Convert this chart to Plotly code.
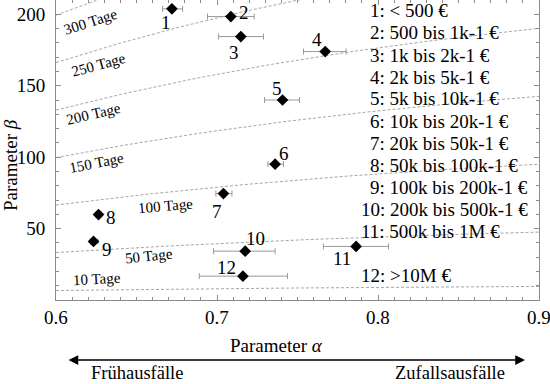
import math
import plotly.graph_objects as go

# ---------------- data ----------------
ids = ["1", "2", "3", "4", "5", "6", "7", "8", "9", "10", "11", "12"]
alpha = [0.672, 0.7086, 0.7148, 0.7672, 0.7407, 0.7361, 0.7040, 0.6264, 0.6233, 0.7175, 0.7864, 0.7161]
alpha_lo = [0.6662, 0.6941, 0.7009, 0.7537, 0.7295, 0.7316, 0.6993, 0.6248, 0.6213, 0.6978, 0.7661, 0.6890]
alpha_hi = [0.6786, 0.7231, 0.7289, 0.7802, 0.7512, 0.7413, 0.7093, 0.6281, 0.6261, 0.7361, 0.8065, 0.7438]
beta = [203.8, 198.4, 184.4, 173.9, 140.0, 95.1, 74.5, 59.8, 41.0, 34.2, 37.5, 16.7]

legend_labels = [
    "1: < 500 €", "2: 500 bis 1k-1 €", "3: 1k bis 2k-1 €", "4: 2k bis 5k-1 €",
    "5: 5k bis 10k-1 €", "6: 10k bis 20k-1 €", "7: 20k bis 50k-1 €",
    "8: 50k bis 100k-1 €", "9: 100k bis 200k-1 €", "10: 200k bis 500k-1 €",
    "11: 500k bis 1M €", "12: >10M €",
]

# mean-lifetime iso lines (days)
tage = [10, 50, 100, 150, 200, 250, 300]
tage_labels = ["10 Tage", "50 Tage", "100 Tage", "150 Tage", "200 Tage", "250 Tage", "300 Tage"]

x_ticks = [0.6, 0.7, 0.8, 0.9]
y_ticks = [50, 100, 150, 200]

# ---------------- layout geometry ----------------
W, H = 550, 384
ML, MR, MT, MB = 56, 11, 0, 84
PW, PH = W - ML - MR, H - MT - MB
FONT = "Liberation Serif, DejaVu Serif, serif"


def px(x):  # pixel x -> paper
    return (x - ML) / PW


def py(y):  # pixel y -> paper
    return (MT + PH - y) / PH


def text_ann(x, y, text, size=19, xanchor="center", angle=0):
    return dict(x=px(x), y=py(y), xref="paper", yref="paper", text=text,
                showarrow=False, xanchor=xanchor, yanchor="middle", textangle=angle,
                font=dict(family=FONT, size=size, color="black"))


fig = go.Figure()

# iso lines
a_grid = [0.6 + i * 0.005 for i in range(61)]
for t in tage:
    fig.add_trace(go.Scatter(
        x=a_grid, y=[t / math.gamma(1 + 1 / a) for a in a_grid],
        mode="lines", line=dict(color="#a6a6a6", width=1, dash="3px,2px"),
        hoverinfo="skip", showlegend=False))

# points with error bars
fig.add_trace(go.Scatter(
    x=alpha, y=beta, mode="markers",
    marker=dict(symbol="diamond", size=9, color="black"),
    error_x=dict(type="data", symmetric=False,
                 array=[h - a for h, a in zip(alpha_hi, alpha)],
                 arrayminus=[a - l for a, l in zip(alpha, alpha_lo)],
                 color="#9a9a9a", thickness=1, width=3),
    showlegend=False))

ann = []
# point labels (pixel positions)
pt_label_pos = [(166, 22), (244, 12), (234, 53), (317, 40), (277, 88), (284, 153),
                (217, 211), (111, 217), (107, 249), (255, 238), (342, 258), (226, 267)]
for lab, (x, y) in zip(ids, pt_label_pos):
    ann.append(text_ann(x, y, lab))

# legend-like text list
leg_y = [11, 33, 55, 77, 99, 121, 143, 165, 187, 209, 231, 275]
for lab, y in zip(legend_labels, leg_y):
    n = len(lab.split(":")[0])
    ann.append(text_ann(368 - 9.5 * (n - 1), y, lab, xanchor="left"))

# Tage labels
tage_pos = {10: (97, 279, -3), 50: (149, 256, -6), 100: (165, 206, -5), 150: (96, 163, -11),
            200: (93, 114, -13), 250: (98, 65, -15), 300: (90, 22, -18)}
for t, lab in zip(tage, tage_labels):
    x, y, ang = tage_pos[t]
    ann.append(text_ann(x, y, lab, size=15, angle=ang))

# x tick labels (placed at tick values, closer to the axis than plotly's default)
for v in x_ticks:
    ann.append(dict(x=v, y=py(317), xref="x", yref="paper", text=str(v), showarrow=False,
                    xanchor="center", yanchor="middle",
                    font=dict(family=FONT, size=19, color="black")))

# axis titles
ann.append(text_ann(276, 345, "Parameter <i>α</i>"))
ann.append(text_ann(10, 165, "Parameter <i>β</i>", angle=-90))

# double arrow + captions
ann.append(dict(x=px(525), y=py(360), xref="paper", yref="paper", ax=-(525 - 67), ay=0,
                axref="pixel", ayref="pixel", text="", showarrow=True,
                arrowside="end+start", arrowhead=2, arrowsize=1.3, arrowwidth=1.5,
                arrowcolor="black"))
ann.append(text_ann(137, 373, "Frühausfälle", size=18.5))
ann.append(text_ann(450, 373, "Zufallsausfälle", size=18.5))

axis_common = dict(showline=True, linecolor="#8c8c8c", linewidth=1, mirror="ticks",
                   ticks="inside", ticklen=5, tickcolor="#8c8c8c", showgrid=False,
                   zeroline=False, automargin=False,
                   tickfont=dict(family=FONT, size=19, color="black"))

fig.update_layout(
    width=W, height=H, margin=dict(l=ML, r=MR, t=MT, b=MB, autoexpand=False),
    plot_bgcolor="white", paper_bgcolor="white",
    font=dict(family=FONT, size=19, color="black"),
    xaxis=dict(range=[0.6, 0.9], tickvals=x_ticks, showticklabels=False,
               minor=dict(dtick=0.01, ticks="inside", ticklen=3, tickcolor="#8c8c8c",
                          showgrid=False),
               **axis_common),
    yaxis=dict(range=[0, 210], tickvals=y_ticks, ticktext=[str(v) for v in y_ticks],
               ticklabelstandoff=6,
               minor=dict(dtick=10, ticks="inside", ticklen=3, tickcolor="#8c8c8c",
                          showgrid=False),
               **axis_common),
    annotations=ann,
    showlegend=False,
)

fig.write_html("out.html", config={"displayModeBar": False},
               post_script="document.body.style.margin='0';document.body.style.padding='0';")
